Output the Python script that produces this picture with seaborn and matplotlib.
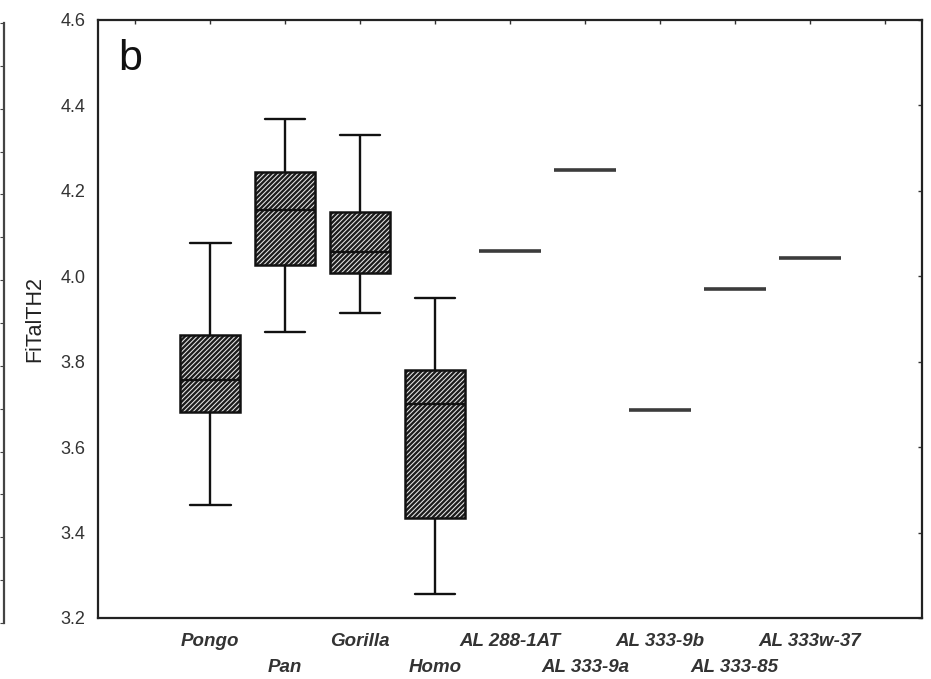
import numpy as np
import pandas as pd
import matplotlib
matplotlib.use("Agg")
import matplotlib.pyplot as plt
from matplotlib.patches import PathPatch
import seaborn as sns

# Category order along the x axis
groups = ["Pongo", "Pan", "Gorilla", "Homo", "AL 288-1AT",
          "AL 333-9a", "AL 333-9b", "AL 333-85", "AL 333w-37"]

# Box summaries for the extant samples: whisker low, Q1, median, Q3, whisker high
pongo = [3.465, 3.682, 3.757, 3.862, 4.078]
pan = [3.870, 4.027, 4.156, 4.245, 4.368]
gorilla = [3.914, 4.008, 4.057, 4.150, 4.331]
homo = [3.256, 3.435, 3.701, 3.781, 3.950]

# Single fossil specimens
fossil_names = ["AL 288-1AT", "AL 333-9a", "AL 333-9b", "AL 333-85", "AL 333w-37"]
fossil_values = [4.059, 4.249, 3.688, 3.971, 4.043]

y_ticks = [3.2, 3.4, 3.6, 3.8, 4.0, 4.2, 4.4, 4.6]

boxes = pd.DataFrame({
    "group": ["Pongo"] * 5 + ["Pan"] * 5 + ["Gorilla"] * 5 + ["Homo"] * 5,
    "FiTalTH2": pongo + pan + gorilla + homo,
})
fossils = pd.DataFrame({"group": fossil_names, "FiTalTH2": fossil_values})

sns.set_style("white")
plt.rcParams["font.family"] = ["Liberation Sans", "DejaVu Sans"]
plt.rcParams["hatch.linewidth"] = 0.75

W, H = 931, 679
fig = plt.figure(figsize=(W / 100, H / 100), dpi=100)
ax = fig.add_axes([98 / W, 61 / H, 824 / W, 598 / H])

sns.boxplot(data=boxes, x="group", y="FiTalTH2", order=groups, ax=ax,
            whis=(0, 100), width=0.8, color="#2e2e2e", linecolor="#111111",
            linewidth=1.7, showfliers=False, capwidths=0.54)

# dark fill with fine white diagonal hatching, then a black outline on top
for p in list(ax.patches):
    p.set_facecolor("#1c1c1c")
    p.set_edgecolor("#e8e8e8")
    p.set_hatch("///////")
    p.set_linewidth(0)
    ax.add_patch(PathPatch(p.get_path(), transform=p.get_transform(),
                           facecolor="none", edgecolor="#111111",
                           linewidth=1.8, zorder=p.get_zorder() + 0.5))

# median lines sit above the outline
for ln in ax.lines:
    ln.set_zorder(3)

sns.pointplot(data=fossils, x="group", y="FiTalTH2", order=groups, ax=ax,
              linestyle="none", marker="_", markersize=44,
              markeredgewidth=2.6, color="#3c3c3c", errorbar=None)

ax.set_xlim(-1.5, 9.5)
ax.set_ylim(3.2, 4.6)
ax.set_yticks(y_ticks)
ax.set_yticklabels([f"{v:.1f}" for v in y_ticks])
ax.set_xticks(range(-1, 10))
ax.set_xticklabels([])
ax.set_xlabel("")
ax.set_ylabel("FiTalTH2", fontsize=15.5, color="#222222", labelpad=11)

ax.tick_params(axis="both", which="major", direction="in", length=3,
               width=1, color="#333333", top=True, right=True,
               labelsize=13, labelcolor="#333333", pad=9)
for s in ax.spines.values():
    s.set_visible(True)
    s.set_color("#222222")
    s.set_linewidth(1.6)

# staggered category labels under the axis
xform = ax.get_xaxis_transform()
for i, name in enumerate(groups):
    yy = -0.0385 if i % 2 == 0 else -0.0836
    ax.text(i, yy, name, transform=xform, ha="center", va="center",
            fontsize=13.5, fontstyle="italic", fontweight="bold",
            color="#333333")

ax.text(0.024, 0.916, "b", transform=ax.transAxes, fontsize=31,
        color="#111111", va="baseline", ha="left")

# right edge of the neighbouring panel
edge = fig.add_axes([-0.5, 56 / H, 0.5 + 4 / W, 600 / H])
edge.set_ylim(3.2, 4.6)
edge.set_xticks([])
edge.set_yticks(np.arange(3.2, 4.61, 0.1))
edge.tick_params(axis="y", left=False, right=True, direction="in",
                 length=3, labelleft=False, color="#444444")
for k, s in edge.spines.items():
    s.set_visible(k == "right")
edge.spines["right"].set_color("#444444")
edge.spines["right"].set_linewidth(1.6)
edge.patch.set_alpha(0)

fig.savefig("out.png", dpi=100)
